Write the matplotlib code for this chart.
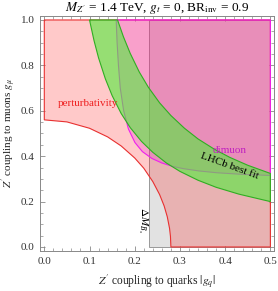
import matplotlib
matplotlib.use('Agg')
import matplotlib.pyplot as plt
from matplotlib.patches import Polygon
from matplotlib.ticker import MultipleLocator

plt.rcParams['font.family'] = ['Liberation Serif', 'DejaVu Serif']
plt.rcParams['mathtext.fontset'] = 'stix'

# perturbativity boundary (allowed region inside)
pert_gq = [0.0, 0.05, 0.10, 0.14, 0.17, 0.20, 0.22, 0.24, 0.255, 0.265, 0.272, 0.277, 0.279, 0.28]
pert_gmu = [0.56, 0.551, 0.523, 0.485, 0.445, 0.392, 0.347, 0.288, 0.231, 0.181, 0.133, 0.082, 0.047, 0.0]

# Delta M_Bs bound on |g_q|
dmbs_gq = 0.232

# dimuon exclusion boundary (excluded above/right)
dimu_gq = [0.159, 0.161, 0.164, 0.168, 0.1755, 0.186, 0.2005, 0.217, 0.238, 0.260, 0.284, 0.308, 0.342, 0.382, 0.437, 0.5]
dimu_gmu = [1.0, 0.9, 0.8, 0.7, 0.6, 0.52, 0.46, 0.42, 0.39, 0.37, 0.355, 0.345, 0.335, 0.327, 0.32, 0.315]

# LHCb best fit band
lhcb_lo_gq = [0.10, 0.11, 0.12, 0.135, 0.15, 0.17, 0.19, 0.215, 0.24, 0.27, 0.30, 0.34, 0.38, 0.43, 0.5]
lhcb_lo_gmu = [1.0, 0.909, 0.833, 0.741, 0.667, 0.588, 0.526, 0.465, 0.417, 0.370, 0.333, 0.294, 0.263, 0.233, 0.20]
lhcb_hi_gq = [0.162, 0.175, 0.19, 0.21, 0.23, 0.255, 0.28, 0.31, 0.34, 0.375, 0.41, 0.45, 0.5]
lhcb_hi_gmu = [1.0, 0.926, 0.853, 0.771, 0.704, 0.635, 0.579, 0.523, 0.476, 0.432, 0.395, 0.36, 0.324]

fig = plt.figure(figsize=(2.78, 2.91), dpi=100)
ax = fig.add_axes([0.1439, 0.1375, 0.8417, 0.8076])

# Delta M_Bs
ax.add_patch(Polygon([(dmbs_gq, 0), (0.5, 0), (0.5, 1), (dmbs_gq, 1)], closed=True,
                     facecolor='#e2e2e2', edgecolor='#999999', lw=0.7, zorder=1))

# perturbativity
pts = list(zip(pert_gq, pert_gmu)) + [(0.5, 0), (0.5, 1), (0, 1)]
ax.add_patch(Polygon(pts, closed=True, facecolor=(1, 0, 0, 0.21), edgecolor='#e83030',
                     lw=0.8, zorder=2))

# dimuon
pts = list(zip(dimu_gq, dimu_gmu)) + [(0.5, 1)]
ax.add_patch(Polygon(pts, closed=True, facecolor=(0.92, 0.15, 0.82, 0.25), edgecolor='#ee20ee',
                     lw=0.8, zorder=3))

# LHCb
pts = list(zip(lhcb_lo_gq, lhcb_lo_gmu)) + list(zip(lhcb_hi_gq, lhcb_hi_gmu))[::-1]
ax.add_patch(Polygon(pts, closed=True, facecolor=(80/255, 237/255, 58/255, 0.6),
                     edgecolor='#2fae22', lw=0.8, zorder=4))

ax.text(0.097, 0.634, 'perturbativity', color='#ee2020', fontsize=8, ha='center', va='center', zorder=6)
ax.text(0.41, 0.423, 'dimuon', color='#c020c0', fontsize=8, ha='center', va='center', zorder=6)
ax.text(0.41, 0.355, 'LHCb best fit', color='black', fontsize=8, ha='center', va='center',
        rotation=-20, zorder=6)
ax.text(0.218, 0.12, r'$\Delta M_{B_s}$', color='black', fontsize=8, ha='center', va='center',
        rotation=-90, zorder=6)

ax.set_xlim(-0.0095, 0.508)
ax.set_ylim(-0.0176, 1.0176)
ax.xaxis.set_major_locator(MultipleLocator(0.1))
ax.xaxis.set_minor_locator(MultipleLocator(0.02))
ax.yaxis.set_major_locator(MultipleLocator(0.2))
ax.yaxis.set_minor_locator(MultipleLocator(0.05))
ax.xaxis.set_major_formatter(plt.FuncFormatter(lambda v, p: f'{v:.1f}'))
ax.yaxis.set_major_formatter(plt.FuncFormatter(lambda v, p: f'{v:.1f}'))
ax.tick_params(which='both', direction='in', top=True, right=True, color='#888888',
               labelsize=8, labelcolor='#333333', pad=4)
ax.tick_params(which='major', length=3.5, width=0.6)
ax.tick_params(which='minor', length=2, width=0.5)
for s in ax.spines.values():
    s.set_color('#888888')
    s.set_linewidth(0.7)

ax.set_xlabel(r"$Z'$ coupling to quarks $|g_q|$", fontsize=8.3, color='#222222', labelpad=5)
ax.set_ylabel(r"$Z'$ coupling to muons $g_\mu$", fontsize=8, color='#222222', labelpad=1)
ax.set_title(r"$M_{Z'}$ = 1.4 TeV, $g_t$ = 0, BR$_{\rm inv}$ = 0.9", fontsize=9.5, pad=2)

fig.savefig('out.png', dpi=100)
